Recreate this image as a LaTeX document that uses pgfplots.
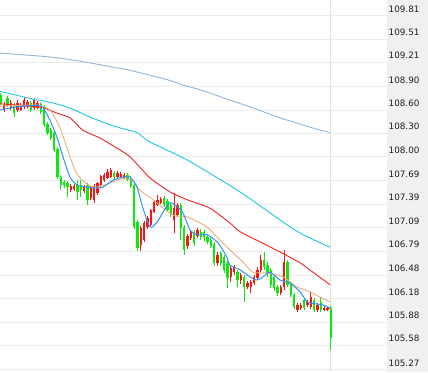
\documentclass[border=0pt]{standalone}
\usepackage{pgfplots}
\pgfplotsset{compat=1.18}
\usepackage{pgfplotstable}
\usepackage{fontspec}
\setmainfont{DejaVu Sans}

\definecolor{upc}{RGB}{250,20,20}
\definecolor{dnc}{RGB}{10,235,10}
\definecolor{mablue}{RGB}{50,145,250}
\definecolor{maorange}{RGB}{235,172,125}
\definecolor{mared}{RGB}{240,35,35}
\definecolor{macyan}{RGB}{30,200,215}
\definecolor{mapale}{RGB}{145,182,215}
\definecolor{gridc}{RGB}{236,236,236}
\definecolor{vlinec}{RGB}{225,225,225}
\definecolor{labelbg}{RGB}{240,240,240}
\definecolor{labc}{RGB}{30,30,30}

\pgfplotstableread{
x o h l c
4.1 108.60 108.70 108.57 108.66
10.8 108.63 108.73 108.60 108.69
17.5 108.60 108.73 108.57 108.69
20.8 108.60 108.69 108.59 108.66
24.1 108.64 108.77 108.61 108.73
27.5 108.64 108.73 108.63 108.70
34.1 108.63 108.75 108.60 108.73
37.5 108.63 108.72 108.61 108.69
70.8 107.57 107.65 107.55 107.63
74.1 107.59 107.65 107.56 107.63
84.1 107.56 107.64 107.54 107.61
90.8 107.47 107.63 107.45 107.60
94.1 107.45 107.65 107.41 107.63
97.5 107.54 107.68 107.51 107.66
100.8 107.64 107.77 107.61 107.75
104.1 107.70 107.79 107.68 107.77
107.5 107.73 107.84 107.72 107.81
110.8 107.74 107.86 107.73 107.83
117.5 107.74 107.82 107.73 107.79
120.8 107.74 107.81 107.73 107.78
124.1 107.73 107.79 107.72 107.77
140.8 106.87 107.11 106.79 107.09
144.1 106.93 107.18 106.91 107.15
147.5 107.10 107.24 107.07 107.21
150.8 107.13 107.33 107.11 107.32
154.1 107.29 107.45 107.28 107.42
157.5 107.38 107.51 107.37 107.45
160.8 107.41 107.48 107.39 107.46
174.1 107.19 107.54 107.02 107.34
177.5 107.25 107.41 107.23 107.38
187.5 106.86 107.01 106.82 106.98
190.8 106.96 107.06 106.93 107.04
197.5 106.98 107.09 106.96 107.06
217.5 106.64 106.78 106.60 106.74
230.8 106.46 106.60 106.39 106.57
234.1 106.52 106.61 106.48 106.59
240.8 106.42 106.51 106.37 106.48
247.5 106.33 106.41 106.30 106.38
250.8 106.33 106.42 106.25 106.39
254.1 106.38 106.48 106.36 106.46
257.5 106.45 106.59 106.42 106.55
260.8 106.55 106.74 106.52 106.68
280.8 106.25 106.36 106.23 106.33
284.1 106.33 106.80 106.29 106.65
297.5 106.04 106.12 106.01 106.10
300.8 106.06 106.12 106.04 106.10
307.5 106.10 106.16 106.07 106.14
310.8 106.07 106.27 106.05 106.20
317.5 106.04 106.12 106.01 106.10
324.1 106.04 106.09 106.02 106.06
327.5 106.04 106.07 106.02 106.06
}\upcandles

\pgfplotstableread{
x o h l c
0.8 108.79 108.82 108.66 108.69
7.5 108.75 108.78 108.64 108.66
14.1 108.66 108.69 108.51 108.56
30.8 108.69 108.72 108.57 108.60
40.8 108.68 108.70 108.55 108.57
44.1 108.63 108.66 108.38 108.41
47.5 108.42 108.45 108.28 108.31
50.8 108.34 108.37 108.22 108.24
54.1 108.32 108.34 108.06 108.09
57.5 108.10 108.13 107.72 107.74
60.8 107.74 107.77 107.57 107.64
64.1 107.68 107.70 107.60 107.64
67.5 107.66 107.69 107.48 107.61
77.5 107.64 107.70 107.45 107.55
80.8 107.64 107.70 107.48 107.57
87.5 107.64 107.66 107.38 107.45
114.1 107.79 107.82 107.72 107.74
127.5 107.77 107.79 107.69 107.70
130.8 107.73 107.75 107.60 107.63
134.1 107.64 107.66 107.07 107.10
137.5 107.16 107.19 106.79 106.83
164.1 107.47 107.50 107.36 107.38
167.5 107.43 107.46 107.29 107.32
170.8 107.38 107.41 107.23 107.25
180.8 107.38 107.41 106.93 107.09
184.1 107.10 107.13 106.74 106.80
194.1 107.04 107.06 106.86 106.89
200.8 107.04 107.07 106.93 106.97
204.1 107.04 107.06 106.92 106.96
207.5 106.97 107.00 106.88 106.91
210.8 106.93 106.96 106.83 106.86
214.1 106.88 106.91 106.60 106.64
220.8 106.77 106.79 106.60 106.64
224.1 106.71 106.74 106.51 106.55
227.5 106.64 106.66 106.32 106.45
237.5 106.52 106.55 106.33 106.42
244.1 106.46 106.48 106.14 106.33
264.1 106.68 106.78 106.55 106.59
267.5 106.61 106.65 106.46 106.51
270.8 106.55 106.57 106.32 106.36
274.1 106.46 106.48 106.28 106.32
277.5 106.33 106.36 106.21 106.25
287.5 106.65 106.68 106.33 106.36
290.8 106.38 106.41 106.20 106.23
294.1 106.23 106.25 106.05 106.07
304.1 106.16 106.19 106.04 106.06
314.1 106.16 106.19 106.01 106.04
320.8 106.14 106.19 106.01 106.04
330.8 106.06 106.09 105.52 105.68
}\dncandles

\begin{document}
\begin{tikzpicture}
\path[use as bounding box] (0,0) rectangle (428pt,372pt);
\fill[labelbg] (387pt,0) rectangle (428pt,372pt);
\begin{axis}[
  at={(0,0)}, anchor=south west,
  scale only axis, width=387pt, height=372pt,
  xmin=0, xmax=387, ymin=105.24, ymax=110.011,
  axis line style={draw=none},
  xtick=\empty,
  ytick={109.81,109.51,109.21,108.90,108.60,108.30,108.00,107.69,107.39,107.09,106.79,106.48,106.18,105.88,105.58,105.27},
  yticklabels={109.81,109.51,109.21,108.90,108.60,108.30,108.00,107.69,107.39,107.09,106.79,106.48,106.18,105.88,105.58,105.27},
  yticklabel pos=right,
  major tick length=0pt,
  /pgf/number format/assume math mode=true,
  ymajorgrids,
  grid style={gridc, line width=1pt},
  yticklabel style={anchor=west, inner sep=0pt, xshift=1.5pt, yshift=6.7pt, font=\fontsize{8.8}{10}\selectfont, text=labc},
  extra x ticks={330}, extra x tick labels={},
  extra x tick style={grid=major, major grid style={vlinec, line width=0.8pt}},
  candle/.style={only marks, mark=*, mark size=0pt, mark options={draw=none, fill=none}, forget plot,
    error bars/y dir=plus, error bars/y explicit, error bars/error mark=none},
]
% wicks
\addplot[candle, error bars/error bar style={draw=upc, line width=0.9pt}]
  table[x=x, y=l, y error plus expr=\thisrow{h}-\thisrow{l}] {\upcandles};
\addplot[candle, error bars/error bar style={draw=dnc, line width=0.9pt}]
  table[x=x, y=l, y error plus expr=\thisrow{h}-\thisrow{l}] {\dncandles};
% bodies
\addplot[candle, error bars/error bar style={draw=upc, line width=2.5pt}]
  table[x=x, y=o, y error plus expr=\thisrow{c}-\thisrow{o}] {\upcandles};
\addplot[candle, error bars/error bar style={draw=dnc, line width=2.5pt}]
  table[x=x, y=c, y error plus expr=\thisrow{o}-\thisrow{c}] {\dncandles};

% moving averages
\addplot[mapale, line width=0.9pt, smooth, tension=0.4] coordinates {
(0,109.33) (50,109.28) (83,109.22) (117,109.14) (133,109.10) (167,108.99) (183,108.92) (200,108.86) (227,108.74) (250,108.64) (280,108.50) (310,108.38) (330,108.31)};
\addplot[macyan, line width=0.9pt, smooth, tension=0.4] coordinates {
(0,108.84) (33,108.74) (43,108.72) (67,108.64) (90,108.51) (110,108.41) (123,108.36) (137,108.31) (150,108.19) (187,107.96) (240,107.55) (295,107.06) (330,106.84)};
\addplot[mared, line width=0.9pt, smooth, tension=0.4] coordinates {
(0,108.68) (30,108.65) (43,108.63) (57,108.56) (70,108.50) (83,108.34) (100,108.24) (117,108.11) (130,108.00) (150,107.73) (170,107.55) (187,107.45) (210,107.34) (230,107.15) (240,107.04) (263,106.89) (280,106.78) (300,106.64) (313,106.52) (330,106.36)};
\addplot[maorange, line width=0.9pt, smooth, tension=0.4] coordinates {
(0,108.65) (20,108.66) (40,108.66) (50,108.60) (55,108.50) (60,108.37) (65,108.19) (70,108.00) (75,107.83) (80,107.73) (87,107.65) (95,107.61) (103,107.63) (113,107.68) (123,107.72) (133,107.69) (140,107.57) (153,107.45) (173,107.25) (187,107.23) (207,107.10) (220,106.93) (233,106.77) (243,106.65) (253,106.52) (267,106.51) (283,106.46) (297,106.33) (310,106.27) (320,106.20) (330,106.14)};
\addplot[mablue, line width=1pt, smooth, tension=0.4] coordinates {
(0,108.60) (17,108.64) (37,108.66) (43,108.63) (50,108.47) (57,108.25) (63,108.00) (70,107.74) (77,107.64) (87,107.61) (97,107.60) (103,107.61) (113,107.70) (123,107.74) (130,107.74) (137,107.61) (143,107.34) (150,107.10) (157,107.16) (163,107.29) (170,107.41) (177,107.36) (183,107.28) (190,107.06) (197,107.00) (207,107.00) (217,106.91) (223,106.80) (227,106.71) (230,106.61) (240,106.55) (250,106.46) (257,106.42) (263,106.46) (270,106.52) (280,106.42) (290,106.38) (300,106.27) (307,106.14) (313,106.12) (323,106.10) (330,106.06)};
\end{axis}
\end{tikzpicture}
\end{document}
